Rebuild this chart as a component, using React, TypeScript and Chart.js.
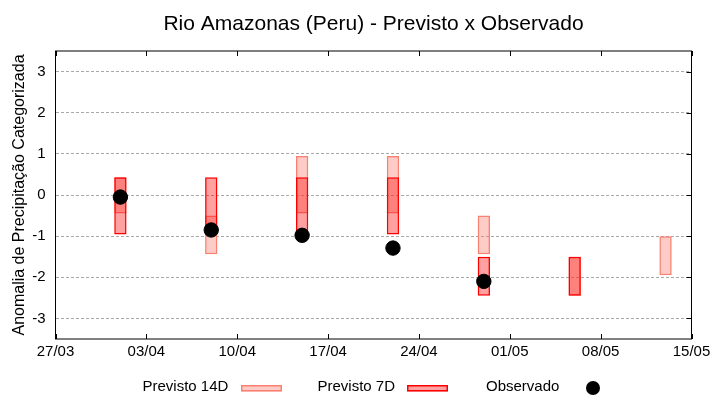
import React, { useEffect, useRef } from 'react';
import { Chart, registerables } from 'chart.js';

Chart.register(...registerables);

const TITLE = 'Rio Amazonas (Peru) - Previsto x Observado';
const Y_TITLE = 'Anomalia de Precipitação Categorizada';

// x axis: days since 27/03
const X_MIN = 0;
const X_MAX = 49;
const X_TICK_DAYS = [0, 7, 14, 21, 28, 35, 42, 49];
const X_TICK_LABELS = ['27/03', '03/04', '10/04', '17/04', '24/04', '01/05', '08/05', '15/05'];

const Y_MIN = -3.5;
const Y_MAX = 3.5;
const Y_TICKS = [-3, -2, -1, 0, 1, 2, 3];

// Previsto 14D (floating bars)
const DAYS_14D = [5, 12, 19, 26, 33, 40, 47];
const LOW_14D = [-0.45, -1.44, -0.45, -0.45, -1.44, -2.45, -1.95];
const HIGH_14D = [0.43, -0.5, 0.95, 0.95, -0.5, -1.5, -1.0];

// Previsto 7D (floating bars)
const DAYS_7D = [5, 12, 19, 26, 33, 40];
const LOW_7D = [-0.96, -0.96, -0.96, -0.96, -2.45, -2.45];
const HIGH_7D = [0.43, 0.43, 0.43, 0.43, -1.5, -1.5];

// Observado
const DAYS_OBS = [5, 12, 19, 26, 33];
const OBS = [-0.05, -0.85, -0.98, -1.29, -2.1];

const LEGEND_LABELS = ['Previsto 14D', 'Previsto 7D', 'Observado'];

const FONT = "'Liberation Sans', Arial, Helvetica, sans-serif";

const C14_FILL = 'rgba(250,128,114,0.4)';
const C14_LINE = 'rgb(250,128,114)';
const C7_FILL = 'rgba(255,0,0,0.37)';
const C7_LINE = 'rgb(255,0,0)';

const decorPlugin = {
  id: 'decor',
  afterDraw(chart: any) {
    const { ctx, chartArea: a, scales } = chart;
    const xs = scales.x;
    const ys = scales.y;
    ctx.save();
    // frame
    ctx.strokeStyle = '#000';
    ctx.lineWidth = 1;
    ctx.strokeRect(a.left, a.top, a.right - a.left, a.bottom - a.top);
    // inward ticks
    ctx.beginPath();
    xs.ticks.forEach((t: any) => {
      const px = Math.round(xs.getPixelForValue(t.value)) + 0.5;
      ctx.moveTo(px, a.bottom);
      ctx.lineTo(px, a.bottom - 5);
      ctx.moveTo(px, a.top);
      ctx.lineTo(px, a.top + 5);
    });
    ys.ticks.forEach((t: any) => {
      const py = Math.round(ys.getPixelForValue(t.value)) + 0.5;
      ctx.moveTo(a.right, py);
      ctx.lineTo(a.right - 5, py);
    });
    ctx.stroke();

    // title
    ctx.fillStyle = '#000';
    ctx.font = `21px ${FONT}`;
    ctx.textAlign = 'center';
    ctx.textBaseline = 'alphabetic';
    ctx.fillText(TITLE, (a.left + a.right) / 2, 30);

    // legend
    ctx.font = `15px ${FONT}`;
    ctx.textAlign = 'left';
    const baseY = 390.5;
    ctx.fillText(LEGEND_LABELS[0], 142.5, baseY);
    ctx.fillText(LEGEND_LABELS[1], 317.5, baseY);
    ctx.fillText(LEGEND_LABELS[2], 486, baseY);

    ctx.lineWidth = 1.5;
    ctx.fillStyle = C14_FILL;
    ctx.fillRect(241, 385, 41, 6.5);
    ctx.strokeStyle = C14_LINE;
    ctx.strokeRect(241.75, 385.75, 39.5, 5);

    ctx.fillStyle = C7_FILL;
    ctx.fillRect(407, 385, 41, 6.5);
    ctx.strokeStyle = C7_LINE;
    ctx.strokeRect(407.75, 385.75, 39.5, 5);

    ctx.fillStyle = '#000';
    ctx.beginPath();
    ctx.arc(593, 388, 7, 0, Math.PI * 2);
    ctx.fill();
    ctx.restore();
  },
};

export default function App() {
  const ref = useRef<HTMLCanvasElement | null>(null);

  useEffect(() => {
    if (!ref.current) return;
    Chart.defaults.font.family = FONT;
    Chart.defaults.color = '#000';

    const chart = new Chart(ref.current, {
      type: 'bar',
      data: {
        datasets: [
          {
            type: 'scatter',
            label: LEGEND_LABELS[2],
            data: DAYS_OBS.map((d, i) => ({ x: d, y: OBS[i] })),
            backgroundColor: '#000',
            borderColor: '#000',
            pointRadius: 7.2,
            pointHoverRadius: 7.2,
            order: 0,
          } as any,
          {
            type: 'bar',
            label: LEGEND_LABELS[1],
            data: DAYS_7D.map((d, i) => ({ x: d, y: [LOW_7D[i], HIGH_7D[i]] })),
            backgroundColor: C7_FILL,
            borderColor: C7_LINE,
            borderWidth: 1.5,
            borderSkipped: false,
            grouped: false,
            barPercentage: 0.95 / 7,
            categoryPercentage: 1,
            order: 1,
          } as any,
          {
            type: 'bar',
            label: LEGEND_LABELS[0],
            data: DAYS_14D.map((d, i) => ({ x: d, y: [LOW_14D[i], HIGH_14D[i]] })),
            backgroundColor: C14_FILL,
            borderColor: C14_LINE,
            borderWidth: 1.5,
            borderSkipped: false,
            grouped: false,
            barPercentage: 0.95 / 7,
            categoryPercentage: 1,
            order: 2,
          } as any,
        ],
      },
      options: {
        animation: false,
        responsive: false,
        devicePixelRatio: 1,
        layout: { padding: { left: 0, top: 51, right: 28.5, bottom: 0 } },
        plugins: {
          legend: { display: false },
          tooltip: { enabled: false },
          title: { display: false },
        },
        scales: {
          x: {
            type: 'linear',
            min: X_MIN,
            max: X_MAX,
            offset: false,
            afterBuildTicks: (s: any) => {
              s.ticks = X_TICK_DAYS.map((v) => ({ value: v }));
            },
            afterFit: (s: any) => {
              s.height = 61;
            },
            grid: { display: false, offset: false, drawTicks: false },
            border: { display: false },
            ticks: {
              padding: 4,
              autoSkip: false,
              maxRotation: 0,
              font: { size: 15 },
              color: '#000',
              callback: (v: any) => {
                const i = X_TICK_DAYS.indexOf(Number(v));
                return i >= 0 ? X_TICK_LABELS[i] : '';
              },
            },
          },
          y: {
            type: 'linear',
            min: Y_MIN,
            max: Y_MAX,
            afterBuildTicks: (s: any) => {
              s.ticks = Y_TICKS.map((v) => ({ value: v }));
            },
            afterFit: (s: any) => {
              s.width = 55.5;
            },
            grid: {
              display: true,
              drawTicks: false,
              color: '#a8a8a8',
              lineWidth: 1,
            },
            border: { display: false, dash: [3, 2] },
            ticks: {
              padding: 10,
              font: { size: 15 },
              color: '#000',
              callback: (v: any) => String(v),
            },
            title: {
              display: true,
              text: Y_TITLE,
              font: { size: 16 },
              color: '#000',
              padding: { top: 10, bottom: 0 },
            },
          },
        },
      },
      plugins: [decorPlugin],
    });

    return () => chart.destroy();
  }, []);

  return (
    <div style={{ position: 'absolute', left: 0, top: 0, width: 720, height: 400, background: '#fff' }}>
      <canvas ref={ref} width={720} height={400} />
    </div>
  );
}
